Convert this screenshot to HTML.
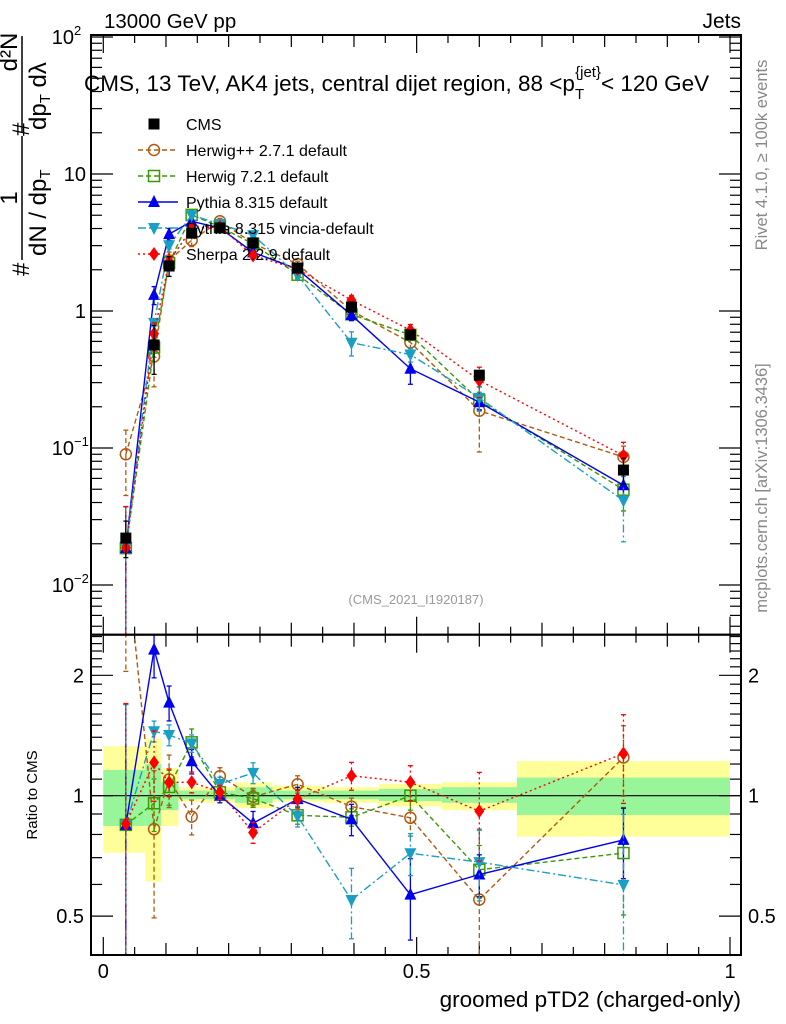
<!DOCTYPE html>
<html><head><meta charset="utf-8"><style>
html,body{margin:0;padding:0;background:#fff;overflow:hidden;width:786px;height:1024px;}
svg{display:block;font-family:"Liberation Sans",sans-serif;}
</style></head><body>
<svg id="chart" width="786" height="1024" viewBox="0 0 786 1024" xmlns="http://www.w3.org/2000/svg">
<defs>
<clipPath id="clipMain"><rect x="91" y="35" width="650" height="599.7"/></clipPath>
<clipPath id="clipRatio"><rect x="91" y="634.7" width="650" height="320.3"/></clipPath>
</defs>
<g id="bands" clip-path="url(#clipRatio)"></g>
<g id="ticks"></g>
<line x1="91" y1="795.7" x2="741" y2="795.7" stroke="#000" stroke-width="1.2"/>
<g id="mainSeries" clip-path="url(#clipMain)"></g>
<g id="ratioSeries" clip-path="url(#clipRatio)"></g>
<rect x="91" y="35" width="650" height="599.7" fill="none" stroke="#000" stroke-width="2"/>
<rect x="91" y="634.7" width="650" height="320.3" fill="none" stroke="#000" stroke-width="2"/>
<g id="labels" font-size="20"></g>

<text x="104" y="28" font-size="20.5">13000 GeV pp</text>
<text x="741" y="28" font-size="21" text-anchor="end">Jets</text>
<text x="84" y="91" font-size="22.5">CMS, 13 TeV, AK4 jets, central dijet region, 88 &lt;p<tspan font-size="15" dy="8">T</tspan><tspan font-size="15" dx="-9" dy="-22">{jet}</tspan><tspan dy="14">&lt; 120 GeV</tspan></text>
<text x="416" y="604" font-size="13" fill="#999" text-anchor="middle">(CMS_2021_I1920187)</text>
<text transform="translate(767,155) rotate(-90)" font-size="16.5" fill="#888" text-anchor="middle">Rivet 4.1.0, ≥ 100k events</text>
<text transform="translate(767,488) rotate(-90)" font-size="16.5" fill="#888" text-anchor="middle">mcplots.cern.ch [arXiv:1306.3436]</text>
<text transform="translate(37,795) rotate(-90)" font-size="15" text-anchor="middle">Ratio to CMS</text>
<text x="741" y="1007" font-size="22.5" text-anchor="end">groomed pTD2 (charged-only)</text>

<g transform="rotate(-90)" font-size="24">
<text x="-276" y="29">#</text>
<line x1="-260" y1="22" x2="-136" y2="22" stroke="#000" stroke-width="1.5"/>
<text x="-198" y="17" text-anchor="middle">1</text>
<text x="-256" y="46">dN / dp<tspan font-size="15" dy="4">T</tspan></text>
<text x="-136" y="29">#</text>
<line x1="-132" y1="22" x2="-36" y2="22" stroke="#000" stroke-width="1.5"/>
<text x="-52" y="17" text-anchor="middle">d²N</text>
<text x="-130" y="46">dp<tspan font-size="15" dy="4">T</tspan><tspan dy="-4"> dλ</tspan></text>
</g>

<g id="legend" font-size="16"></g>
</svg>
<script>
const xVals = [0.036,0.081,0.105,0.141,0.186,0.239,0.31,0.396,0.49,0.6,0.83];
const cmsVals = [0.022,0.565,2.13,3.7,4.04,3.14,2.06,1.07,0.67,0.34,0.069];
const herwigppVals = [0.09,0.466,2.34,3.28,4.52,3.12,2.20,1.005,0.59,0.187,0.086];
const herwig7Vals = [0.0186,0.541,2.24,5.03,4.12,3.09,1.84,0.945,0.67,0.222,0.0496];
const pythiaVals = [0.0186,1.31,3.64,4.51,4.04,2.68,2.02,0.934,0.379,0.216,0.0535];
const vinciaVals = [0.0186,0.819,3.02,5.0,4.32,3.58,1.83,0.587,0.481,0.232,0.0413];
const sherpaVals = [0.0187,0.684,2.30,4.0,4.12,2.54,2.02,1.2,0.724,0.311,0.088];
const herwigppErr = [0.5,0.4,0.15,0.1,0.05,0.05,0.05,0.05,0.1,0.5,0.2];
const herwig7Err = [1.0,0.15,0.1,0.08,0.04,0.05,0.05,0.05,0.08,0.15,0.3];
const pythiaErr = [1.0,0.15,0.1,0.07,0.04,0.07,0.07,0.09,0.23,0.12,0.2];
const vinciaErr = [1.0,0.06,0.06,0.05,0.04,0.06,0.06,0.2,0.12,0.2,0.5];
const sherpaErr = [1.0,0.2,0.08,0.06,0.04,0.06,0.05,0.08,0.1,0.25,0.25];
const binEdges = [0,0.067,0.092,0.12,0.163,0.21,0.27,0.352,0.44,0.54,0.66,1.0];
const yellowUp = [1.33,1.39,1.17,1.05,1.05,1.08,1.06,1.05,1.07,1.08,1.22];
const yellowDn = [0.72,0.61,0.84,0.966,0.96,0.93,0.966,0.96,0.94,0.92,0.79];
const greenUp = [1.16,1.2,1.08,1.03,1.03,1.05,1.03,1.03,1.04,1.05,1.11];
const greenDn = [0.84,0.84,0.92,0.98,0.98,0.96,0.98,0.98,0.97,0.96,0.895];
const xTickLabels = ["0","0.5","1"];
const ratioTickVals = [0.5,1,2];

const NS="http://www.w3.org/2000/svg";
const X0=103.3, XS=626.7;
function px(x){return X0+x*XS;}
function py(v){return 311-137*Math.log10(v);}
function ry(r){return 795.7-400*Math.log10(r);}
function mk(tag,attrs,parent){const e=document.createElementNS(NS,tag);for(const k in attrs)e.setAttribute(k,attrs[k]);parent.appendChild(e);return e;}

const bands=document.getElementById('bands');
for(let i=0;i<binEdges.length-1;i++){
  const x1=px(binEdges[i]), x2=px(binEdges[i+1]);
  const y=mk('rect',{x:x1,y:ry(yellowUp[i]),width:x2-x1,height:ry(yellowDn[i])-ry(yellowUp[i]),fill:'#ffff99'},bands);
  
  
  const g=mk('rect',{x:x1,y:ry(greenUp[i]),width:x2-x1,height:ry(greenDn[i])-ry(greenUp[i]),fill:'#99f599'},bands);
  
  
}

const tk=document.getElementById('ticks');
function tline(x1,y1,x2,y2){mk('line',{x1,y1,x2,y2,stroke:'#000','stroke-width':1.2},tk);}
for(let i=0;i<=20;i++){
  const x=px(i*0.05); const L=(i%10===0)?18:(i%2===0?12:8);
  tline(x,35,x,35+L); tline(x,634.7,x,634.7-L);
  tline(x,634.7,x,634.7+L); tline(x,955,x,955-L);
}
for(let d=-3;d<=2;d++){
  for(let m=1;m<10;m++){
    const v=m*Math.pow(10,d); const y=py(v);
    if(y<35||y>634.7) continue;
    const L=m===1?22:11;
    tline(91,y,91+L,y); tline(741,y,741-L,y);
  }
}
for(let m=4;m<=25;m++){
  const v=m/10; const y=ry(v);
  if(y<634.7||y>955) continue;
  const L=(v===0.5||v===1||v===2)?22:11;
  tline(91,y,91+L,y); tline(741,y,741-L,y);
}

const lab=document.getElementById('labels');
xTickLabels.forEach((t,i)=>{const e=mk('text',{x:px(i*0.5),y:978,'text-anchor':'middle'},lab);e.textContent=t;});
const mainLabels=[[2,'10','2'],[1,'10',''],[0,'1',''],[-1,'10','−1'],[-2,'10','−2']];
mainLabels.forEach(m=>{
  const y=py(Math.pow(10,m[0]));
  const e=mk('text',{x:m[2]?74:86,y:y+7,'text-anchor':'end'},lab);e.textContent=m[1];
  if(m[2]){const s=mk('text',{x:74,y:y-2,'font-size':13},lab);s.textContent=m[2];}
});
ratioTickVals.forEach(v=>{
  const y=ry(v);
  const a=mk('text',{x:84,y:y+7,'text-anchor':'end'},lab);a.textContent=String(v);
  const b=mk('text',{x:748,y:y+7},lab);b.textContent=String(v);
});

const series=[
 {name:'herwigpp',label:'Herwig++ 2.7.1 default',vals:herwigppVals,err:herwigppErr,color:'#b05a10',dash:'5,3',marker:'circle'},
 {name:'herwig7',label:'Herwig 7.2.1 default',vals:herwig7Vals,err:herwig7Err,color:'#3a9a00',dash:'5,3',marker:'square'},
 {name:'pythia',label:'Pythia 8.315 default',vals:pythiaVals,err:pythiaErr,color:'#0000ee',dash:'',marker:'tri-up'},
 {name:'vincia',label:'Pythia 8.315 vincia-default',vals:vinciaVals,err:vinciaErr,color:'#1a9fc4',dash:'8,3,2,3',marker:'tri-down'},
 {name:'sherpa',label:'Sherpa 2.2.9 default',vals:sherpaVals,err:sherpaErr,color:'#ff0000',dash:'2,3',marker:'diamond'}
];
function marker(type,x,y,color,parent){
  let e;
  if(type==='circle') e=mk('circle',{cx:x,cy:y,r:5.5,fill:'none',stroke:color,'stroke-width':1.5},parent);
  else if(type==='square') e=mk('rect',{x:x-5.5,y:y-5.5,width:11,height:11,fill:'none',stroke:color,'stroke-width':1.5},parent);
  else if(type==='tri-up') e=mk('polygon',{points:`${x},${y-7} ${x-6},${y+5} ${x+6},${y+5}`,fill:color},parent);
  else if(type==='tri-down') e=mk('polygon',{points:`${x},${y+7} ${x-6},${y-5} ${x+6},${y-5}`,fill:color},parent);
  else if(type==='diamond') e=mk('polygon',{points:`${x},${y-7} ${x-5},${y} ${x},${y+7} ${x+5},${y}`,fill:color},parent);
  else e=mk('rect',{x:x-5.5,y:y-5.5,width:11,height:11,fill:color},parent);
  return e;
}
function errbar(x,y1,y2,color,dash,parent){
  mk('line',{x1:x,y1:y1,x2:x,y2:y2,stroke:color,'stroke-width':1.3,'stroke-dasharray':dash},parent);
  mk('line',{x1:x-2.5,y1:y1,x2:x+2.5,y2:y1,stroke:color,'stroke-width':1.3},parent);
  mk('line',{x1:x-2.5,y1:y2,x2:x+2.5,y2:y2,stroke:color,'stroke-width':1.3},parent);
}
const mainG=document.getElementById('mainSeries'), ratG=document.getElementById('ratioSeries');
function clampLog(v){return Math.max(v,1e-6);}
series.forEach(s=>{
  const gm=mk('g',{},mainG);
  
  
  const gr=mk('g',{},ratG);
  
  
  const ptsM=s.vals.map((v,i)=>px(xVals[i])+','+py(v)).join(' ');
  const ptsR=s.vals.map((v,i)=>px(xVals[i])+','+ry(v/cmsVals[i])).join(' ');
  mk('polyline',{points:ptsM,fill:'none',stroke:s.color,'stroke-width':1.4,'stroke-dasharray':s.dash},gm);
  mk('polyline',{points:ptsR,fill:'none',stroke:s.color,'stroke-width':1.4,'stroke-dasharray':s.dash},gr);
  s.vals.forEach((v,i)=>{
    const x=px(xVals[i]), e=s.err[i];
    errbar(x,py(v*(1+e)),py(clampLog(v*(1-e))),s.color,s.dash,gm);
    const r=v/cmsVals[i];
    errbar(x,ry(r*(1+e)),ry(clampLog(r*(1-e))),s.color,s.dash,gr);
    const m1=marker(s.marker,x,py(v),s.color,gm);
    
    
    const m2=marker(s.marker,x,ry(r),s.color,gr);
    
    
  });
});
const gc=mk('g',{},mainG);


cmsVals.forEach((v,i)=>{
  const x=px(xVals[i]);
  errbar(x,py(v*yellowUp[i]),py(v*yellowDn[i]),'#000','',gc);
  const m=marker('filled-square',x,py(v),'#000',gc);
  
  
});
const lg=document.getElementById('legend');
const legItems=[{label:'CMS',color:'#000',dash:null,marker:'filled-square'}].concat(series);
legItems.forEach((s,i)=>{
  const y=124+26*i;
  const g=mk('g',{},lg);
  
  
  if(s.dash!==null) mk('line',{x1:138,y1:y,x2:178,y2:y,stroke:s.color,'stroke-width':1.4,'stroke-dasharray':s.dash},g);
  marker(s.marker,154,y,s.color,g);
  const t=mk('text',{x:186,y:y+6},g); t.textContent=s.label;
});
</script>
</body></html>
